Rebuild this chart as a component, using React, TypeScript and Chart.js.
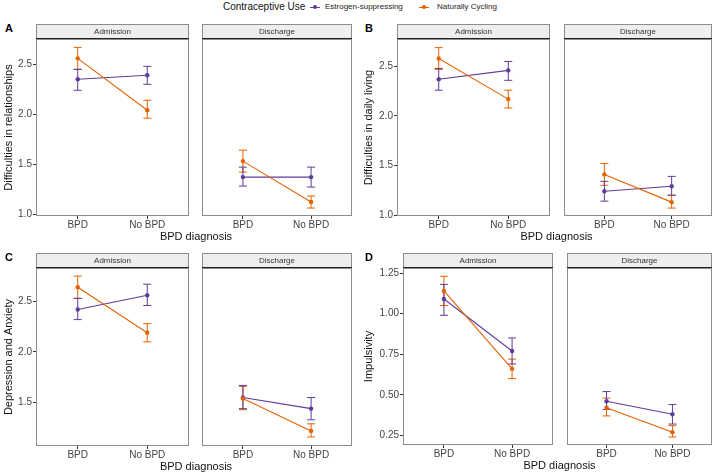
import React, { useEffect, useRef } from "react";
import { Chart, registerables } from "chart.js";
Chart.register(...registerables);

const FONT = "'Liberation Sans', Arial, Helvetica, sans-serif";
const PURPLE = "#5E3C99";
const ORANGE = "#E66101";

const categories = ["BPD", "No BPD"];
const facetNames = ["Admission", "Discharge"];
const seriesNames = ["Estrogen-suppressing", "Naturally Cycling"];
const legendTitle = "Contraceptive Use";
const xTitle = "BPD diagnosis";

// Panel A: Difficulties in relationships
const aEstAdm = [2.35, 2.39];
const aEstAdmLo = [2.24, 2.3];
const aEstAdmHi = [2.45, 2.48];
const aNatAdm = [2.56, 2.04];
const aNatAdmLo = [2.45, 1.96];
const aNatAdmHi = [2.67, 2.14];
const aEstDis = [1.37, 1.37];
const aEstDisLo = [1.28, 1.27];
const aEstDisHi = [1.47, 1.47];
const aNatDis = [1.53, 1.12];
const aNatDisLo = [1.42, 1.06];
const aNatDisHi = [1.64, 1.18];

// Panel B: Difficulties in daily living
const bEstAdm = [2.37, 2.46];
const bEstAdmLo = [2.26, 2.36];
const bEstAdmHi = [2.48, 2.55];
const bNatAdm = [2.58, 2.17];
const bNatAdmLo = [2.47, 2.08];
const bNatAdmHi = [2.69, 2.26];
const bEstDis = [1.24, 1.29];
const bEstDisLo = [1.14, 1.2];
const bEstDisHi = [1.34, 1.39];
const bNatDis = [1.41, 1.13];
const bNatDisLo = [1.3, 1.07];
const bNatDisHi = [1.52, 1.2];

// Panel C: Depression and Anxiety
const cEstAdm = [2.42, 2.56];
const cEstAdmLo = [2.32, 2.46];
const cEstAdmHi = [2.53, 2.67];
const cNatAdm = [2.64, 2.19];
const cNatAdmLo = [2.53, 2.1];
const cNatAdmHi = [2.75, 2.28];
const cEstDis = [1.55, 1.44];
const cEstDisLo = [1.44, 1.33];
const cEstDisHi = [1.67, 1.55];
const cNatDis = [1.54, 1.22];
const cNatDisLo = [1.43, 1.16];
const cNatDisHi = [1.66, 1.29];

// Panel D: Impulsivity
const dEstAdm = [1.09, 0.77];
const dEstAdmLo = [0.99, 0.69];
const dEstAdmHi = [1.18, 0.85];
const dNatAdm = [1.14, 0.66];
const dNatAdmLo = [1.05, 0.6];
const dNatAdmHi = [1.23, 0.72];
const dEstDis = [0.46, 0.38];
const dEstDisLo = [0.41, 0.32];
const dEstDisHi = [0.52, 0.44];
const dNatDis = [0.42, 0.27];
const dNatDisLo = [0.37, 0.24];
const dNatDisHi = [0.48, 0.31];

const ticksABC = [1.0, 1.5, 2.0, 2.5];
const ticksD = [0.25, 0.5, 0.75, 1.0, 1.25];

type Series = { label: string; color: string; values: number[]; lo: number[]; hi: number[] };

type PanelDef = {
  letter: string;
  yTitle: string;
  x0: number;
  plotLeft: number;
  admRight: number;
  disLeft: number;
  disRight: number;
  stripTop: number;
  plotTop: number;
  plotBottom: number;
  ymin: number;
  ymax: number;
  yTicks: number[];
  dec: number;
  adm: Series[];
  dis: Series[];
};

const mk = (values: number[], lo: number[], hi: number[], i: number): Series => ({
  label: seriesNames[i],
  color: i === 0 ? PURPLE : ORANGE,
  values,
  lo,
  hi,
});

const panels: PanelDef[] = [
  {
    letter: "A", yTitle: "Difficulties in relationships",
    x0: 0, plotLeft: 36, admRight: 193, disLeft: 198, disRight: 356,
    stripTop: 24, plotTop: 39, plotBottom: 216, ymin: 0.98, ymax: 2.754, yTicks: ticksABC, dec: 1,
    adm: [mk(aEstAdm, aEstAdmLo, aEstAdmHi, 0), mk(aNatAdm, aNatAdmLo, aNatAdmHi, 1)],
    dis: [mk(aEstDis, aEstDisLo, aEstDisHi, 0), mk(aNatDis, aNatDisLo, aNatDisHi, 1)],
  },
  {
    letter: "B", yTitle: "Difficulties in daily living",
    x0: 360, plotLeft: 397, admRight: 554, disLeft: 560, disRight: 716,
    stripTop: 24, plotTop: 39, plotBottom: 216, ymin: 0.99, ymax: 2.777, yTicks: ticksABC, dec: 1,
    adm: [mk(bEstAdm, bEstAdmLo, bEstAdmHi, 0), mk(bNatAdm, bNatAdmLo, bNatAdmHi, 1)],
    dis: [mk(bEstDis, bEstDisLo, bEstDisHi, 0), mk(bNatDis, bNatDisLo, bNatDisHi, 1)],
  },
  {
    letter: "C", yTitle: "Depression and Anxiety",
    x0: 0, plotLeft: 36, admRight: 193, disLeft: 198, disRight: 356,
    stripTop: 253, plotTop: 268, plotBottom: 446, ymin: 1.071, ymax: 2.83, yTicks: ticksABC, dec: 1,
    adm: [mk(cEstAdm, cEstAdmLo, cEstAdmHi, 0), mk(cNatAdm, cNatAdmLo, cNatAdmHi, 1)],
    dis: [mk(cEstDis, cEstDisLo, cEstDisHi, 0), mk(cNatDis, cNatDisLo, cNatDisHi, 1)],
  },
  {
    letter: "D", yTitle: "Impulsivity",
    x0: 360, plotLeft: 403, admRight: 557, disLeft: 563, disRight: 716,
    stripTop: 253, plotTop: 268, plotBottom: 445, ymin: 0.191, ymax: 1.281, yTicks: ticksD, dec: 2,
    adm: [mk(dEstAdm, dEstAdmLo, dEstAdmHi, 0), mk(dNatAdm, dNatAdmLo, dNatAdmHi, 1)],
    dis: [mk(dEstDis, dEstDisLo, dEstDisHi, 0), mk(dNatDis, dNatDisLo, dNatDisHi, 1)],
  },
];

const facetPlugin = {
  id: "facetDeco",
  beforeDraw(chart: any) {
    const o = chart.options.plugins.facetDeco;
    const { ctx, chartArea: ca } = chart;
    const w = ca.right - ca.left;
    const top = ca.top - o.stripH;
    ctx.save();
    ctx.fillStyle = "#ffffff";
    ctx.fillRect(ca.left, ca.top, w, ca.bottom - ca.top);
    ctx.fillStyle = "#EEEEEE";
    ctx.fillRect(ca.left, top, w, o.stripH);
    ctx.strokeStyle = "#8C8C8C";
    ctx.lineWidth = 1;
    ctx.strokeRect(ca.left + 0.5, top + 0.5, w - 1, o.stripH);
    ctx.fillStyle = "#222222";
    ctx.fillRect(ca.left, ca.top - 1, w, 1.6);
    ctx.fillStyle = "#333333";
    ctx.font = `8px ${FONT}`;
    ctx.textAlign = "center";
    ctx.textBaseline = "middle";
    ctx.fillText(o.strip, ca.left + w / 2, top + o.stripH / 2);
    ctx.restore();
  },
  beforeDatasetsDraw(chart: any) {
    const { ctx } = chart;
    const xs = chart.scales.x;
    const ys = chart.scales.y;
    ctx.save();
    chart.data.datasets.forEach((ds: any) => {
      ctx.strokeStyle = ds.borderColor;
      ctx.lineWidth = 1;
      ds.data.forEach((p: any, i: number) => {
        const x = xs.getPixelForValue(p.x);
        const yl = ys.getPixelForValue(ds.errLo[i]);
        const yh = ys.getPixelForValue(ds.errHi[i]);
        ctx.beginPath();
        ctx.moveTo(x, yl);
        ctx.lineTo(x, yh);
        ctx.moveTo(x - 4, yl);
        ctx.lineTo(x + 4, yl);
        ctx.moveTo(x - 4, yh);
        ctx.lineTo(x + 4, yh);
        ctx.stroke();
      });
    });
    ctx.restore();
  },
  afterDraw(chart: any) {
    const { ctx, chartArea: ca } = chart;
    ctx.save();
    ctx.strokeStyle = "#8C8C8C";
    ctx.lineWidth = 1;
    ctx.strokeRect(ca.left + 0.5, ca.top + 0.5, ca.right - ca.left - 1, ca.bottom - ca.top - 1);
    ctx.restore();
  },
};

type FacetProps = {
  p: PanelDef;
  which: number;
};

function Facet({ p, which }: FacetProps) {
  const ref = useRef<HTMLCanvasElement | null>(null);
  const isAdm = which === 0;
  const left = isAdm ? p.x0 : p.disLeft;
  const right = isAdm ? p.admRight : p.disRight;
  const width = right - left;
  const xAxisH = 22;
  const height = p.plotBottom - p.stripTop + xAxisH;
  const series = isAdm ? p.adm : p.dis;

  useEffect(() => {
    if (!ref.current) return;
    const chart = new Chart(ref.current, {
      type: "line",
      data: {
        datasets: series
          .map((s) => ({
            label: s.label,
            data: s.values.map((v, i) => ({ x: i + 1, y: v })),
            errLo: s.lo,
            errHi: s.hi,
            borderColor: s.color,
            backgroundColor: s.color,
            borderWidth: 1.1,
            pointRadius: 2.2,
            pointBorderWidth: 0,
            pointBackgroundColor: s.color,
            tension: 0,
          }))
          .reverse() as any,
      },
      options: {
        animation: false,
        responsive: false,
        maintainAspectRatio: false,
        events: [],
        layout: { padding: { top: p.plotTop - p.stripTop, left: 0, right: 0, bottom: 0 } },
        plugins: {
          legend: { display: false },
          tooltip: { enabled: false },
          facetDeco: { strip: facetNames[which], stripH: p.plotTop - p.stripTop },
        } as any,
        scales: {
          x: {
            type: "linear",
            min: 0.4,
            max: 2.6,
            afterBuildTicks: (s: any) => {
              s.ticks = categories.map((_, i) => ({ value: i + 1 }));
            },
            afterFit: (s: any) => {
              s.height = xAxisH;
            },
            ticks: {
              autoSkip: false,
              maxRotation: 0,
              padding: 0,
              color: "#444444",
              font: { family: FONT, size: 10 },
              callback: (v: any) => categories[Math.round(Number(v)) - 1] ?? "",
            },
            grid: { drawOnChartArea: false, drawTicks: true, tickLength: 3, tickColor: "#333333", tickWidth: 1 },
            border: { display: false },
          },
          y: {
            type: "linear",
            display: isAdm,
            min: p.ymin,
            max: p.ymax,
            afterBuildTicks: (s: any) => {
              s.ticks = p.yTicks.filter((v) => v >= p.ymin && v <= p.ymax).map((v) => ({ value: v }));
            },
            afterFit: (s: any) => {
              s.width = isAdm ? p.plotLeft - p.x0 : 0;
            },
            ticks: {
              padding: 1,
              color: "#444444",
              font: { family: FONT, size: 10 },
              callback: (v: any) => Number(v).toFixed(p.dec),
            },
            title: {
              display: isAdm,
              text: p.yTitle,
              color: "#111111",
              font: { family: FONT, size: 11 },
              padding: { top: 2, bottom: 0 },
            },
            grid: { drawOnChartArea: false, drawTicks: true, tickLength: 3, tickColor: "#333333", tickWidth: 1 },
            border: { display: false },
          },
        },
      } as any,
      plugins: [facetPlugin as any],
    });
    return () => chart.destroy();
  }, []);

  return (
    <canvas
      ref={ref}
      width={width}
      height={height}
      style={{ position: "absolute", left, top: p.stripTop, width, height }}
    />
  );
}

function LegendKey({ color, left }: { color: string; left: number }) {
  return (
    <div style={{ position: "absolute", left, top: 6, width: 10, height: 2 }}>
      <div style={{ position: "absolute", left: 0, top: 0.5, width: 10, height: 1, background: color }} />
      <div
        style={{
          position: "absolute",
          left: 2.7,
          top: -1.3,
          width: 4.6,
          height: 4.6,
          borderRadius: "50%",
          background: color,
        }}
      />
    </div>
  );
}

export default function App() {
  const txt: React.CSSProperties = {
    position: "absolute",
    fontFamily: FONT,
    whiteSpace: "nowrap",
    lineHeight: 1,
  };
  return (
    <div style={{ position: "absolute", left: 0, top: 0, width: 720, height: 476, background: "#ffffff", overflow: "hidden" }}>
      <div style={{ ...txt, left: 223, top: 2, fontSize: 10, color: "#111" }}>{legendTitle}</div>
      <LegendKey color={PURPLE} left={310} />
      <div style={{ ...txt, left: 325, top: 3, fontSize: 8, color: "#222" }}>{seriesNames[0]}</div>
      <LegendKey color={ORANGE} left={419} />
      <div style={{ ...txt, left: 437, top: 3, fontSize: 8, color: "#222" }}>{seriesNames[1]}</div>

      {panels.map((p) => (
        <React.Fragment key={p.letter}>
          <div style={{ ...txt, left: p.x0 + 5, top: p.stripTop - 1, fontSize: 11, fontWeight: "bold", color: "#000" }}>
            {p.letter}
          </div>
          <Facet p={p} which={0} />
          <Facet p={p} which={1} />
          <div
            style={{
              ...txt,
              left: (p.plotLeft + p.disRight) / 2,
              top: p.plotBottom + 15,
              transform: "translateX(-50%)",
              fontSize: 11,
              color: "#111",
            }}
          >
            {xTitle}
          </div>
        </React.Fragment>
      ))}
    </div>
  );
}
